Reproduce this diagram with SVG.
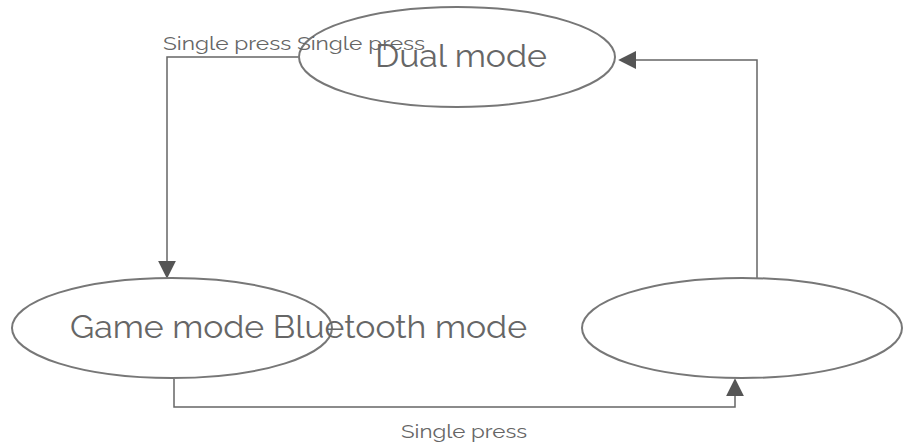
<svg xmlns="http://www.w3.org/2000/svg" width="907" height="443" viewBox="0 0 907 443">
<style>
.n{fill:#fff;stroke:#777;stroke-width:2}
.c{fill:none;stroke:#666;stroke-width:1.5}
text{font-family:Raleway,"Open Sans","Liberation Sans",sans-serif;fill:#666}
</style>
<defs><marker id="b" viewBox="0 0 10 10" markerWidth="18" markerHeight="18" refX="9" refY="5" orient="auto" markerUnits="userSpaceOnUse"><path d="M0,0L10,5L0,10z" fill="#555"/></marker></defs>
<rect width="907" height="443" fill="#fff"/>
<g id="connectors">
<path class="c" d="M298,57H167V277" marker-end="url(#b)"/>
<path class="c" d="M174,379V407H735V380" marker-end="url(#b)"/>
<path class="c" d="M757,278V60H620" marker-end="url(#b)"/>
</g>
<g id="dual"><ellipse class="n" cx="457" cy="57" rx="158" ry="50"/><text x="375" y="67" font-size="31" textLength="172" lengthAdjust="spacingAndGlyphs">Dual mode</text></g>
<g id="game"><ellipse class="n" cx="172" cy="328" rx="160" ry="50"/><text x="70" y="338" font-size="31" textLength="457" lengthAdjust="spacingAndGlyphs">Game mode Bluetooth mode</text></g>
<g id="bt"><ellipse class="n" cx="742" cy="328" rx="160" ry="50"/></g>
<g id="labels"><text x="163" y="50" font-size="19" textLength="262" lengthAdjust="spacingAndGlyphs">Single press Single press</text>
<text x="401" y="438" font-size="19" textLength="126" lengthAdjust="spacingAndGlyphs">Single press</text></g>
</svg>
